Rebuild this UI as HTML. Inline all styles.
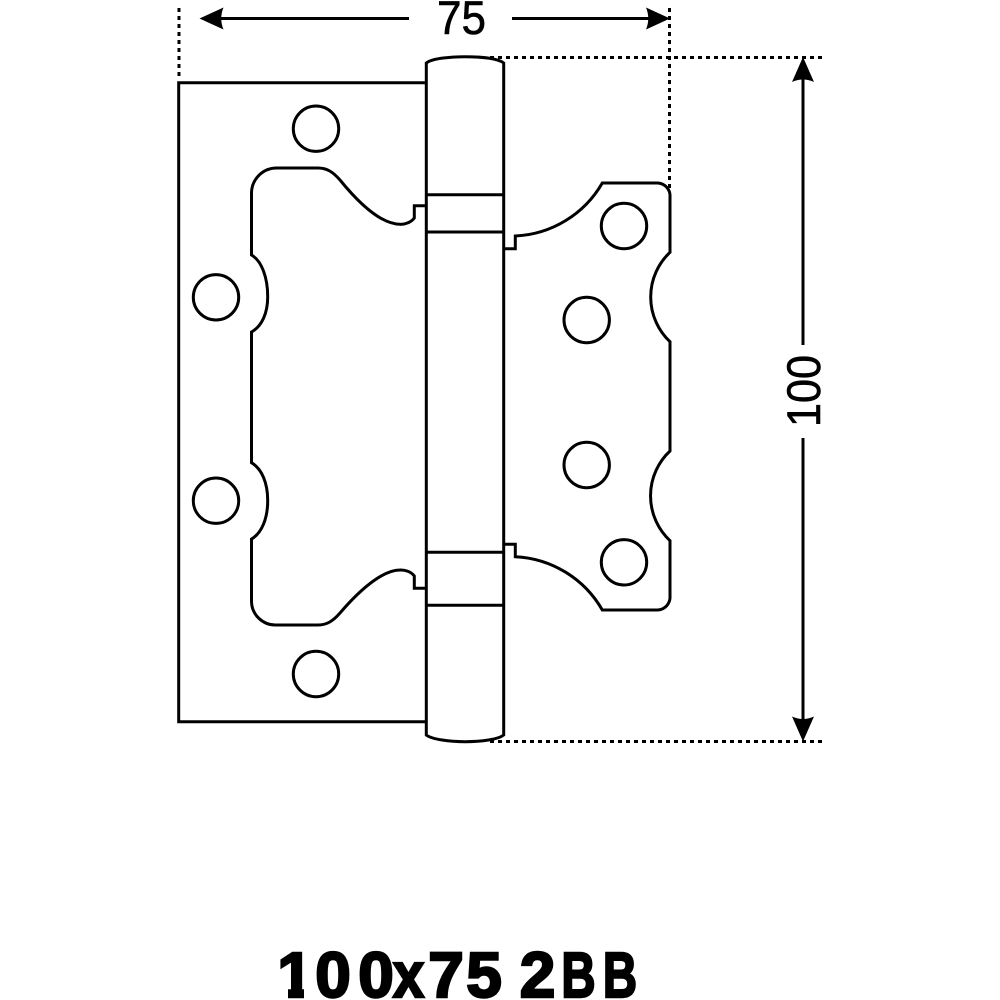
<!DOCTYPE html>
<html>
<head>
<meta charset="utf-8">
<style>
html,body{margin:0;padding:0;background:#fff;}
svg{display:block;}
</style>
</head>
<body>
<svg width="1000" height="1000" viewBox="0 0 1000 1000" xmlns="http://www.w3.org/2000/svg">
<g fill="none" stroke="#000" stroke-width="3" stroke-dasharray="4 4">
<path d="M179 8V80"/>
<path d="M669.5 8V190"/>
<path d="M490 57.5H822"/>
<path d="M490 741.5H822"/>
</g>
<g fill="none" stroke="#000" stroke-width="3" stroke-linejoin="miter">
<path d="M426.3 82.7H178.7V721.7H426.3"/>
<path d="M426.3 735V63C432 58.5 450 56.7 465 56.7C482 56.7 498 58.5 503.7 63V735C498 739.5 482 741.7 465 741.7C450 741.7 432 739.5 426.3 735Z"/>
<path d="M426.3 194.7H503.7M426.3 232H503.7M426.3 552.3H503.7M426.3 605.3H503.7"/>
<path d="M426.3 205.7H414.3V218C411 222.5 405 224.5 400 224.3C385 224 366 212 340 180C333 172 327 168 318 168H276.7A25.2 25.2 0 0 0 251.5 193V255C262 261 267.7 278 267.7 296.7C267.7 313 262 326 251.5 332V462.7C262 469 267.7 483 267.7 500.7C267.7 518 262 533 251.5 539V601.7A24 24 0 0 0 276.7 625H318C327 625 333 621 340 613C364 585 385 570 400 570C405 569.8 411 571.5 414.3 576V588.3H426.3"/>
<path d="M503.7 248.7H515.3V236A106 106 0 0 0 602.3 183H657.7A13 13 0 0 1 670 197V252.3A61.4 61.4 0 0 0 670 341.7V451A61.4 61.4 0 0 0 670 540.7V596A13 13 0 0 1 657.7 610H602.3A106 106 0 0 0 515.3 556.7V544.3H503.7"/>
<circle cx="316" cy="128.7" r="22.7"/>
<circle cx="216" cy="297.3" r="22.7"/>
<circle cx="216" cy="500.7" r="22.7"/>
<circle cx="316" cy="674" r="22.7"/>
<circle cx="624" cy="226" r="22.7"/>
<circle cx="586.7" cy="320" r="22.7"/>
<circle cx="586.7" cy="465" r="22.7"/>
<circle cx="624" cy="562.3" r="22.7"/>
</g>
<g stroke="#000" stroke-width="3" fill="none">
<path d="M215 18.5H409M512 18.5H655"/>
<path d="M803 75V345M803 438V725"/>
</g>
<g fill="#000" stroke="none">
<path d="M199.5 18.5L223.5 7.5Q219 18.5 223.5 29.5Z"/>
<path d="M670 18.5L646 7.5Q650.5 18.5 646 29.5Z"/>
<path d="M803 57L792 82Q803 77 814 82Z"/>
<path d="M803 741.5L792 716.5Q803 721.5 814 716.5Z"/>
<text x="437" y="34" font-family="'Liberation Sans',sans-serif" font-size="47" textLength="49" lengthAdjust="spacingAndGlyphs" stroke="#000" stroke-width="0.6">75</text>
<text transform="translate(820 427) rotate(-90)" x="0" y="0" font-family="'Liberation Sans',sans-serif" font-size="47" textLength="72" lengthAdjust="spacingAndGlyphs" stroke="#000" stroke-width="0.6">100</text>
<g font-family="'Liberation Sans',sans-serif" font-weight="bold" font-size="64" text-anchor="middle" stroke="#000" stroke-width="2.4">
<text x="295" y="997">1</text>
<text x="333" y="997">0</text>
<text x="376" y="997">0</text>
<text transform="translate(408.5 997) scale(.88 1)">x</text>
<text x="446" y="997">7</text>
<text x="484" y="997">5</text>
<text x="537.5" y="997">2</text>
<text transform="translate(578.5 997) scale(.74 1)">B</text>
<text transform="translate(620 997) scale(.74 1)">B</text>
</g>
<rect x="278" y="987" width="10" height="13" fill="#fff"/>
<rect x="304" y="987" width="12" height="13" fill="#fff"/>
</g>
</svg>
</body>
</html>
